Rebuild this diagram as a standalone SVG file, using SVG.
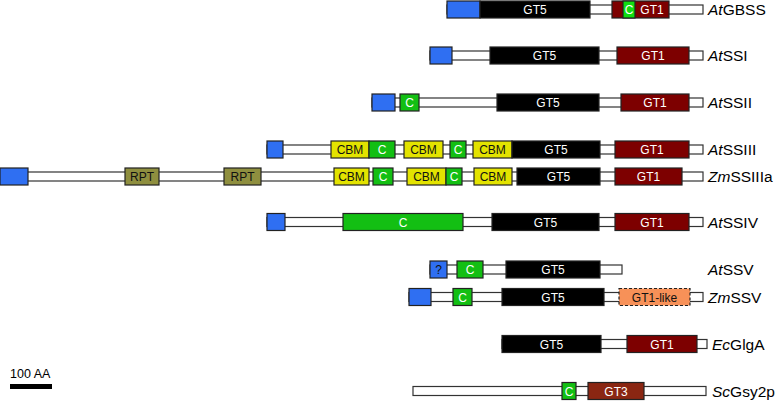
<svg xmlns="http://www.w3.org/2000/svg" width="777" height="402" viewBox="0 0 777 402">
<style>
.bar{fill:#fff;stroke:#333;stroke-width:1.2}
.b{stroke:#222;stroke-width:1.2}
.blue{fill:#2f6ff2}
.gt5{fill:#000}
.gt1{fill:#7d0000}
.c{fill:#13bf13}
.cbm{fill:#e3e300}
.rpt{fill:#8f8f3f}
.gt3{fill:#8a2612}
.like{fill:#f79158;stroke-dasharray:3 2}
.tw{font-family:"Liberation Sans",Arial,sans-serif;font-size:12px;fill:#fff;text-anchor:middle}
.tk{font-family:"Liberation Sans",Arial,sans-serif;font-size:12px;fill:#111;text-anchor:middle}
.lab{font-family:"Liberation Sans",Arial,sans-serif;font-size:15.5px;fill:#000}
</style>
<rect width="777" height="402" fill="#fff"/>
<g id="AtGBSS">
<rect class="bar" x="447" y="5" width="256" height="9"/>
<rect class="b blue" x="447" y="1" width="33" height="17"/>
<rect class="b gt5" x="480" y="1" width="110" height="17"/><text class="tw" x="535" y="14">GT5</text>
<rect class="b gt1" x="612" y="1" width="57" height="17"/>
<rect class="b" x="623" y="1" width="12" height="17" fill="#11dd11"/><text class="tw" x="629" y="14">C</text>
<text class="tw" x="652" y="14">GT1</text>
<text class="lab" x="708" y="15"><tspan font-style="italic">At</tspan>GBSS</text>
</g>
<g id="AtSSI">
<rect class="bar" x="430" y="51" width="273" height="9"/>
<rect class="b blue" x="430" y="47" width="22" height="17"/>
<rect class="b gt5" x="490" y="47" width="109" height="17"/><text class="tw" x="544.5" y="60">GT5</text>
<rect class="b gt1" x="617" y="47" width="72" height="17"/><text class="tw" x="653" y="60">GT1</text>
<text class="lab" x="708" y="61"><tspan font-style="italic">At</tspan>SSI</text>
</g>
<g id="AtSSII">
<rect class="bar" x="372" y="98" width="331" height="9"/>
<rect class="b blue" x="372" y="94" width="23" height="17"/>
<rect class="b c" x="400" y="94" width="19" height="17"/><text class="tw" x="409.5" y="107">C</text>
<rect class="b gt5" x="497" y="94" width="102" height="17"/><text class="tw" x="548" y="107">GT5</text>
<rect class="b gt1" x="621" y="94" width="68" height="17"/><text class="tw" x="655" y="107">GT1</text>
<text class="lab" x="708" y="108"><tspan font-style="italic">At</tspan>SSII</text>
</g>
<g id="AtSSIII">
<rect class="bar" x="267" y="145" width="436" height="9"/>
<rect class="b blue" x="267" y="141" width="16" height="17"/>
<rect class="b cbm" x="331" y="141" width="38" height="17"/><text class="tk" x="350" y="154">CBM</text>
<rect class="b c" x="369" y="141" width="26" height="17"/><text class="tw" x="382" y="154">C</text>
<rect class="b cbm" x="404" y="141" width="39" height="17"/><text class="tk" x="423.5" y="154">CBM</text>
<rect class="b c" x="450" y="141" width="16" height="17"/><text class="tw" x="458" y="154">C</text>
<rect class="b cbm" x="473" y="141" width="39" height="17"/><text class="tk" x="492.5" y="154">CBM</text>
<rect class="b gt5" x="512" y="141" width="88" height="17"/><text class="tw" x="556" y="154">GT5</text>
<rect class="b gt1" x="615" y="141" width="74" height="17"/><text class="tw" x="652" y="154">GT1</text>
<text class="lab" x="708" y="155"><tspan font-style="italic">At</tspan>SSIII</text>
</g>
<g id="ZmSSIIIa">
<rect class="bar" x="0" y="172" width="703" height="9"/>
<rect class="b blue" x="0" y="168" width="28" height="17"/>
<rect class="b rpt" x="125" y="168" width="34" height="17"/><text class="tk" x="142" y="181">RPT</text>
<rect class="b rpt" x="224" y="168" width="37" height="17"/><text class="tk" x="242.5" y="181">RPT</text>
<rect class="b cbm" x="334" y="168" width="35" height="17"/><text class="tk" x="351.5" y="181">CBM</text>
<rect class="b c" x="373" y="168" width="20" height="17"/><text class="tw" x="383" y="181">C</text>
<rect class="b cbm" x="407" y="168" width="39" height="17"/><text class="tk" x="426.5" y="181">CBM</text>
<rect class="b c" x="446" y="168" width="16" height="17"/><text class="tw" x="454" y="181">C</text>
<rect class="b cbm" x="474" y="168" width="38" height="17"/><text class="tk" x="493" y="181">CBM</text>
<rect class="b gt5" x="517" y="168" width="83" height="17"/><text class="tw" x="558.5" y="181">GT5</text>
<rect class="b gt1" x="615" y="168" width="67" height="17"/><text class="tw" x="648.5" y="181">GT1</text>
<text class="lab" x="708" y="182"><tspan font-style="italic">Zm</tspan>SSIIIa</text>
</g>
<g id="AtSSIV">
<rect class="bar" x="267" y="217.5" width="436" height="9"/>
<rect class="b blue" x="267" y="213.5" width="18" height="17"/>
<rect class="b c" x="343" y="213.5" width="120" height="17"/><text class="tw" x="403" y="226.5">C</text>
<rect class="b gt5" x="492" y="213.5" width="107" height="17"/><text class="tw" x="545.5" y="226.5">GT5</text>
<rect class="b gt1" x="615" y="213.5" width="74" height="17"/><text class="tw" x="652" y="226.5">GT1</text>
<text class="lab" x="708" y="227.5"><tspan font-style="italic">At</tspan>SSIV</text>
</g>
<g id="AtSSV">
<rect class="bar" x="430" y="265" width="192" height="9"/>
<rect class="b blue" x="430" y="261" width="17" height="17"/><text class="tk" x="438.5" y="274">?</text>
<rect class="b c" x="457" y="261" width="26" height="17"/><text class="tw" x="470" y="274">C</text>
<rect class="b gt5" x="506" y="261" width="94" height="17"/><text class="tw" x="553" y="274">GT5</text>
<text class="lab" x="708" y="275"><tspan font-style="italic">At</tspan>SSV</text>
</g>
<g id="ZmSSV">
<rect class="bar" x="409" y="292.5" width="294" height="9"/>
<rect class="b blue" x="409" y="288.5" width="22" height="17"/>
<rect class="b c" x="453" y="288.5" width="19" height="17"/><text class="tw" x="462.5" y="301.5">C</text>
<rect class="b gt5" x="502" y="288.5" width="102" height="17"/><text class="tw" x="553" y="301.5">GT5</text>
<rect class="b like" x="619" y="288.5" width="71" height="17"/><text class="tk" x="654.5" y="301.5">GT1-like</text>
<text class="lab" x="708" y="302.5"><tspan font-style="italic">Zm</tspan>SSV</text>
</g>
<g id="EcGlgA">
<rect class="bar" x="502" y="339.5" width="205" height="9"/>
<rect class="b gt5" x="502" y="335.5" width="99" height="17"/><text class="tw" x="551.5" y="348.5">GT5</text>
<rect class="b gt1" x="627" y="335.5" width="70" height="17"/><text class="tw" x="662" y="348.5">GT1</text>
<text class="lab" x="712" y="349.5"><tspan font-style="italic">Ec</tspan>GlgA</text>
</g>
<g id="ScGsy2p">
<rect class="bar" x="413" y="386.5" width="293" height="9"/>
<rect class="b c" x="562" y="382.5" width="14" height="17"/><text class="tw" x="569" y="395.5">C</text>
<rect class="b gt3" x="588" y="382.5" width="56" height="17"/><text class="tw" x="616" y="395.5">GT3</text>
<text class="lab" x="712" y="396.5"><tspan font-style="italic">Sc</tspan>Gsy2p</text>
</g>
<g id="scale">
<text x="10" y="378" style="font-family:'Liberation Sans',Arial,sans-serif;font-size:12.5px;fill:#000">100 AA</text>
<rect x="10" y="384" width="42" height="5" fill="#000"/>
</g>
<g id="connectors"></g>
</svg>
